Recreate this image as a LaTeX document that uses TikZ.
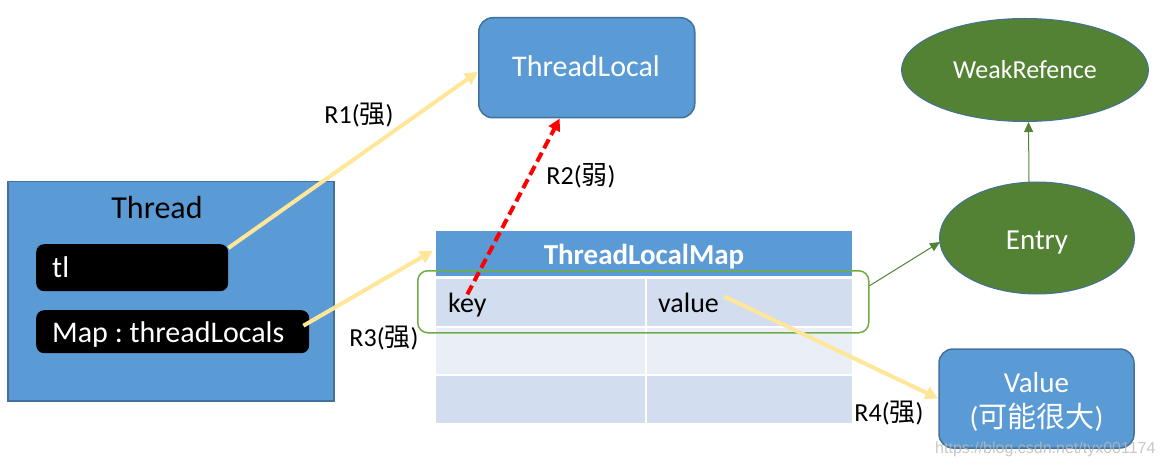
\documentclass[tikz,border=0pt]{standalone}
\usepackage{fontspec}
\setmainfont{Carlito}
\newfontfamily\cjk{Noto Sans CJK SC}
\newfontfamily\wmfont{Liberation Sans}
\usetikzlibrary{shapes.geometric,arrows.meta,calc}
\definecolor{bfill}{HTML}{5B9BD5}
\definecolor{bline}{HTML}{41719C}
\definecolor{yarr}{HTML}{FFE699}
\definecolor{gfill}{HTML}{548235}
\definecolor{gline}{HTML}{70AD47}
\definecolor{rowa}{HTML}{D2DEEF}
\definecolor{rowb}{HTML}{EAEFF7}
\newcommand{\fs}[1]{\fontsize{#1}{#1}\selectfont}
\frenchspacing
\begin{document}
\begin{tikzpicture}[x=1pt,y=-1pt,
  bluebox/.style={draw=bline, fill=bfill, line width=1.5pt, text=white, inner sep=0pt, anchor=north west},
  blackbox/.style={fill=black, rounded corners=8pt, inner sep=0pt, anchor=north west},
  boxtext/.style={text=white, font=\fs{30}, anchor=base west, inner sep=0pt},
  cella/.style={fill=rowa, inner sep=0pt, anchor=north west},
  cellb/.style={fill=rowb, inner sep=0pt, anchor=north west},
  greenell/.style={ellipse, draw=bline, fill=gfill, line width=1pt, inner sep=0pt},
  elltext/.style={text=white, inner sep=0pt, anchor=base},
  yarrow/.style={draw=yarr, line width=4pt, -{Triangle[length=13pt,width=13pt]}},
  rarrow/.style={draw=red, line width=4pt, dash pattern=on 10pt off 5pt, -{Triangle[length=12pt,width=12pt]}},
  garrow/.style={draw=gfill, line width=1pt, -{Triangle[length=10pt,width=9pt]}},
  lbl/.style={font=\fs{26}, inner sep=0pt}
]
\useasboundingbox (0,0) rectangle (1162,465);

% Thread
\node[bluebox, minimum width=326pt, minimum height=219pt] (thread) at (7,181) {};
\node[font=\fs{32}, inner sep=0pt, anchor=base] (threadlbl) at (157,219) {Thread};
\node[blackbox, minimum width=192pt, minimum height=47pt] (tl) at (36,244) {};
\node[boxtext] (tlt) at (52,277) {tl};
\node[blackbox, minimum width=273pt, minimum height=43pt] (map) at (36,310) {};
\node[boxtext] (mapt) at (52,342) {Map : threadLocals};

% ThreadLocal
\node[bluebox, rounded corners=14pt, minimum width=216pt, minimum height=100pt] (TL) at (478,17) {};
\node[elltext, font=\fs{30}] (TLt) at (586,77) {ThreadLocal};

% Table
\node[fill=bfill, inner sep=0pt, anchor=north west, minimum width=416pt, minimum height=45pt] (hdr) at (436,231) {};
\node[font=\bfseries\fs{29}, text=white, inner sep=0pt, anchor=base] (hdrt) at (644,264) {ThreadLocalMap};
\node[cella, minimum width=209pt, minimum height=47pt] (k1) at (436,279) {};
\node[cella, minimum width=205pt, minimum height=47pt] (v1) at (647,279) {};
\node[cellb, minimum width=209pt, minimum height=46pt] (k2) at (436,328) {};
\node[cellb, minimum width=205pt, minimum height=46pt] (v2) at (647,328) {};
\node[cella, minimum width=209pt, minimum height=47pt] (k3) at (436,376) {};
\node[cella, minimum width=205pt, minimum height=47pt] (v3) at (647,376) {};
\node[font=\fs{28}, anchor=base west, inner sep=0pt] (keyt) at (448,312) {key};
\node[font=\fs{28}, anchor=base west, inner sep=0pt] (valt) at (658,312) {value};
\node[draw=gline, line width=1.5pt, rounded corners=10pt, minimum width=451pt, minimum height=62pt, anchor=north west, inner sep=0pt] (erow) at (417,270) {};

% Ellipses
\node[greenell, minimum width=195pt, minimum height=112pt] (entry) at (1037,238) {};
\node[elltext, font=\fs{29}] (entryt) at (1037,250) {Entry};
\node[greenell, minimum width=247pt, minimum height=103pt] (weak) at (1025,70) {};
\node[elltext, font=\fs{26}] (weakt) at (1025,79) {WeakRefence};

% Value
\node[bluebox, rounded corners=14pt, minimum width=195pt, minimum height=99pt, anchor=center] (val) at (1036.5,398.5) {};
\node[elltext, font=\fs{29}] (valt1) at (1036.5,392) {Value};
\node[elltext, font=\fs{29}] (valt2) at (1036.5,427) {({\cjk 可能很大})};

% Arrows
\draw[yarrow] ($(tl.north east)+(0,4)$) -- ($(TL.west)+(0,4)$);
\draw[yarrow] ($(map.east)+(-6,-6)$) -- ($(hdr.west)+(-3,-3)$);
\draw[yarrow] ($(valt.east)+(5,-6)$) -- (val.west);
\draw[rarrow] ($(keyt.north)+(0,2)$) -- ($(TL.south)+(-27,0)$);
\draw[garrow] ($(erow.east)+(0,-16)$) -- ($(entry.west)+(1,4)$);
\draw[garrow] ($(entry.north)+(-8,1)$) -- ($(weak.south)+(3.5,0)$);

% Labels
\node[lbl] (l1) at (359,115) {R1({\cjk 强})};
\node[lbl] (l2) at (581,176) {R2({\cjk 弱})};
\node[lbl] (l3) at (384,338) {R3({\cjk 强})};
\node[lbl] (l4) at (889,413) {R4({\cjk 强})};

% Watermark
\node[font=\wmfont\fs{16}, text=gray!55, opacity=0.8, anchor=base west, inner sep=0pt] (wmk) at (935,453) {https://blog.csdn.net/tyx001174};
\end{tikzpicture}
\end{document}
